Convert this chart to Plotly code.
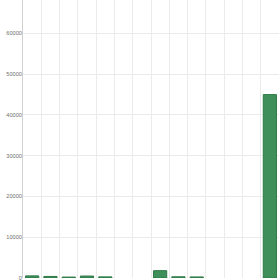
import plotly.graph_objects as go

categories = [f"C{i+1}" for i in range(14)]
values = [520, 380, 230, 480, 280, None, None, 1800, 300, 260, None, None, None, 45000]
y_ticks = [0, 10000, 20000, 30000, 40000, 50000, 60000, 70000]

x_pos = list(range(len(categories)))

fig = go.Figure(
    go.Bar(
        x=x_pos,
        y=values,
        width=0.72,
        marker=dict(color="#3f8f5a", line=dict(color="#2f7a48", width=1)),
        hovertext=categories,
    )
)

fig.update_layout(
    width=280,
    height=280,
    margin=dict(l=23, r=1, t=0, b=2),
    paper_bgcolor="white",
    plot_bgcolor="white",
    showlegend=False,
)
fig.update_xaxes(
    range=[-0.5, len(categories) - 0.5],
    tickmode="linear",
    tick0=-0.5,
    dtick=1,
    showticklabels=False,
    showgrid=True,
    gridcolor="#ebebeb",
    gridwidth=1,
    zeroline=False,
    showline=False,
    ticks="",
)
fig.update_yaxes(
    range=[0, 68200],
    tickvals=y_ticks,
    ticktext=[str(v) for v in y_ticks],
    tickfont=dict(size=5.6, color="#6f6f6f", family="Liberation Sans, Arial, sans-serif"),
    showgrid=True,
    gridcolor="#ebebeb",
    gridwidth=1,
    zeroline=False,
    showline=True,
    linecolor="#d0d0d0",
    linewidth=1,
    ticks="",
    ticklabelstandoff=-1,
    ticklabeloverflow="allow",
    automargin=False,
)

fig.write_html("out.html")
